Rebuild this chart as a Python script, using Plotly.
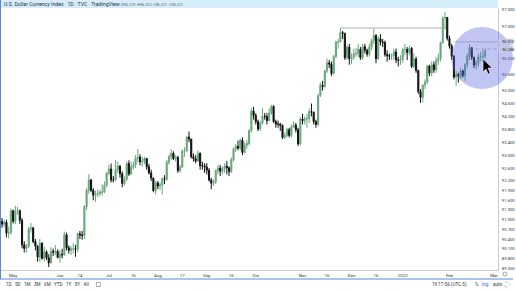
import pandas as pd
import plotly.graph_objects as go

# ---------------- data (TVC:DXY daily) ----------------
first_day = "2021-04-26"

open_prices = [
    90.95, 90.86, 90.92, 90.58, 90.60,
    91.28, 90.95, 91.27, 91.28, 90.98, 90.22, 90.11, 90.17, 90.72, 90.74, 90.32, 90.18, 89.84, 90.27, 89.80, 90.00, 89.82, 89.66, 90.02, 89.99, 90.02,
    89.83, 89.93, 89.91, 90.53, 90.13, 90.05, 90.10, 90.10, 90.08, 90.56, 90.53, 90.51, 91.40, 91.91, 92.23, 91.91, 91.76, 91.80, 91.81, 91.85, 91.86, 92.06,
    92.44, 92.57, 92.23, 92.23, 92.55, 92.66, 92.42, 92.12, 92.25, 92.74, 92.42, 92.63, 92.69, 92.90, 92.94, 92.79, 92.80, 92.90, 92.64, 92.45, 92.29, 91.90,
    92.14, 92.04, 92.07, 92.27, 92.25, 92.78, 92.95, 93.06, 92.89, 92.93, 92.52, 92.63, 93.13, 93.14, 93.56, 93.50, 92.95, 92.89, 92.82, 93.06, 92.68, 92.67,
    92.63, 92.53, 92.23, 92.13, 92.17, 92.52, 92.60, 92.50, 92.58, 92.66, 92.61, 92.49, 92.86, 93.19, 93.27, 93.22, 93.46, 93.08, 93.31, 93.36, 93.76, 94.37,
    94.23, 94.04, 93.81, 93.99, 94.21, 94.20, 94.07, 94.30, 94.51, 94.04, 93.96, 93.96, 93.92, 93.55, 93.61, 93.79, 93.61, 93.87, 93.93, 93.79, 93.35,
    94.12, 94.07, 94.13, 94.13, 94.35, 94.33, 94.04, 93.95, 94.85, 95.17, 95.12, 95.61, 95.86, 95.82, 95.53, 96.06, 96.50, 96.51, 96.80, 96.77, 96.02, 96.35,
    95.99, 96.03, 96.14, 96.15, 96.28, 96.02, 96.36, 96.25, 96.13, 96.35, 96.55, 96.71, 95.99, 96.61, 96.51, 96.49, 96.12, 96.08, 96.07, 96.08, 96.20, 95.95, 95.94,
    95.97, 96.27, 96.27, 96.18, 96.31, 95.75, 95.98, 95.62, 94.97, 94.79, 95.17, 95.26, 95.76, 95.54, 95.80, 95.64, 95.93, 96.00, 96.49, 97.25, 97.27,
    96.62, 96.38, 96.06, 95.42, 95.50, 95.44, 95.61, 95.47, 95.81, 96.08, 96.33, 96.03, 95.79, 95.86, 96.05, 96.05, 96.07,
]
high_prices = [
    91.05, 91.00, 91.00, 90.78, 91.35,
    91.31, 91.43, 91.40, 91.31, 91.05, 90.33, 90.25, 90.78, 90.90, 90.78, 90.40, 90.21, 90.40, 90.30, 90.16, 90.05, 89.93, 90.15, 90.10, 90.21, 90.08,
    90.05, 90.10, 90.63, 90.60, 90.20, 90.18, 90.28, 90.22, 90.60, 90.65, 90.65, 91.45, 91.98, 92.41, 92.26, 91.98, 91.90, 91.92, 91.93, 92.10, 92.19, 92.48,
    92.70, 92.74, 92.35, 92.84, 92.80, 92.69, 92.50, 92.35, 92.80, 92.84, 92.80, 92.80, 93.00, 93.19, 93.03, 92.95, 92.95, 92.90, 92.73, 92.55, 92.30, 92.20,
    92.20, 92.15, 92.32, 92.38, 92.85, 93.02, 93.18, 93.12, 93.00, 92.98, 92.70, 93.17, 93.25, 93.60, 93.73, 93.50, 93.05, 93.00, 93.15, 93.08, 92.80, 92.75,
    92.75, 92.60, 92.30, 92.25, 92.55, 92.70, 92.70, 92.65, 92.75, 92.82, 92.65, 92.93, 93.24, 93.35, 93.45, 93.51, 93.55, 93.40, 93.48, 93.80, 94.45, 94.50,
    94.30, 94.10, 94.05, 94.45, 94.30, 94.30, 94.45, 94.56, 94.55, 94.10, 94.07, 94.00, 93.95, 93.70, 93.85, 93.85, 93.95, 94.05, 94.00, 93.85, 94.18,
    94.28, 94.20, 94.27, 94.45, 94.60, 94.35, 94.10, 94.90, 95.25, 95.30, 95.65, 96.00, 95.95, 95.90, 96.10, 96.55, 96.60, 96.94, 96.85, 96.80, 96.40, 96.45,
    96.15, 96.30, 96.32, 96.45, 96.35, 96.45, 96.45, 96.30, 96.45, 96.60, 96.91, 96.75, 96.70, 96.75, 96.60, 96.55, 96.25, 96.15, 96.15, 96.30, 96.30, 96.05, 96.10,
    96.33, 96.45, 96.35, 96.40, 96.35, 96.15, 96.05, 95.65, 95.05, 95.20, 95.35, 95.80, 95.80, 95.90, 95.90, 96.05, 96.15, 96.52, 97.30, 97.44, 97.25,
    96.70, 96.45, 96.10, 95.60, 95.55, 95.70, 95.65, 95.85, 96.15, 96.44, 96.35, 96.05, 95.95, 96.15, 96.20, 96.25, 96.30,
]
low_prices = [
    90.75, 90.78, 90.45, 90.42, 90.55,
    90.88, 90.86, 91.15, 90.87, 90.11, 89.98, 89.98, 90.12, 90.60, 90.27, 90.05, 89.70, 89.69, 89.76, 89.70, 89.75, 89.53, 89.65, 89.87, 89.90, 89.80,
    89.66, 89.80, 89.88, 90.05, 89.95, 89.90, 89.95, 89.85, 90.00, 90.40, 90.38, 90.40, 91.30, 91.80, 91.85, 91.60, 91.55, 91.70, 91.72, 91.75, 91.82, 92.00,
    92.38, 92.15, 92.15, 92.20, 92.45, 92.30, 92.00, 92.05, 92.20, 92.35, 92.38, 92.55, 92.60, 92.78, 92.68, 92.65, 92.72, 92.55, 92.40, 92.20, 91.85, 91.78,
    91.95, 91.92, 91.78, 92.10, 92.20, 92.70, 92.85, 92.85, 92.80, 92.45, 92.45, 92.60, 92.95, 93.10, 93.40, 92.90, 92.80, 92.75, 92.80, 92.55, 92.55, 92.45,
    92.40, 92.18, 91.94, 92.05, 92.10, 92.40, 92.35, 92.40, 92.45, 92.40, 92.35, 92.45, 92.80, 93.10, 93.15, 93.15, 93.00, 93.05, 93.20, 93.30, 93.70, 94.10,
    93.95, 93.75, 93.75, 93.95, 94.10, 93.95, 94.05, 94.25, 94.00, 93.85, 93.85, 93.75, 93.50, 93.50, 93.55, 93.55, 93.55, 93.85, 93.70, 93.28, 93.30,
    93.95, 93.95, 93.85, 94.00, 94.20, 93.95, 93.85, 93.90, 94.80, 95.00, 95.10, 95.55, 95.70, 95.45, 95.50, 96.00, 96.30, 96.50, 96.60, 95.95, 95.95, 95.80,
    95.82, 95.95, 96.05, 96.05, 95.95, 95.95, 96.15, 96.05, 96.05, 96.25, 96.45, 95.85, 95.95, 96.40, 96.35, 96.05, 95.90, 95.95, 95.95, 95.95, 95.85, 95.75, 95.80,
    95.85, 96.10, 95.95, 96.10, 95.70, 95.70, 95.55, 94.90, 94.62, 94.63, 95.05, 95.20, 95.45, 95.45, 95.55, 95.55, 95.80, 95.90, 96.45, 96.90, 96.55,
    96.30, 95.95, 95.35, 95.14, 95.25, 95.35, 95.40, 95.30, 95.70, 95.95, 95.95, 95.70, 95.65, 95.75, 95.90, 95.90, 96.00,
]
close_prices = [
    90.86, 90.92, 90.58, 90.60, 91.28,
    90.95, 91.27, 91.28, 90.98, 90.22, 90.11, 90.17, 90.72, 90.74, 90.32, 90.18, 89.84, 90.27, 89.80, 90.00, 89.82, 89.66, 90.02, 89.99, 90.02, 89.83,
    89.93, 89.91, 90.53, 90.13, 90.05, 90.10, 90.10, 90.08, 90.56, 90.53, 90.51, 91.40, 91.91, 92.23, 91.91, 91.76, 91.80, 91.81, 91.85, 91.86, 92.06, 92.44,
    92.57, 92.23, 92.23, 92.55, 92.66, 92.42, 92.12, 92.25, 92.74, 92.42, 92.63, 92.69, 92.90, 92.94, 92.79, 92.80, 92.90, 92.64, 92.45, 92.29, 91.90, 92.14,
    92.04, 92.07, 92.27, 92.25, 92.78, 92.95, 93.06, 92.89, 92.93, 92.52, 92.63, 93.13, 93.14, 93.56, 93.50, 92.95, 92.89, 92.82, 93.06, 92.68, 92.67, 92.63,
    92.53, 92.23, 92.13, 92.17, 92.52, 92.60, 92.50, 92.58, 92.66, 92.61, 92.49, 92.86, 93.19, 93.27, 93.22, 93.46, 93.08, 93.31, 93.36, 93.76, 94.37, 94.23,
    94.04, 93.81, 93.99, 94.21, 94.20, 94.07, 94.30, 94.51, 94.04, 93.96, 93.96, 93.92, 93.55, 93.61, 93.79, 93.61, 93.87, 93.93, 93.79, 93.35, 94.12,
    94.07, 94.13, 94.13, 94.35, 94.33, 94.04, 93.95, 94.85, 95.17, 95.12, 95.61, 95.86, 95.82, 95.53, 96.06, 96.50, 96.51, 96.80, 96.77, 96.02, 96.35, 95.99,
    96.03, 96.14, 96.15, 96.28, 96.02, 96.36, 96.25, 96.13, 96.35, 96.55, 96.71, 95.99, 96.61, 96.51, 96.49, 96.12, 96.08, 96.07, 96.08, 96.20, 95.95, 95.94, 95.97,
    96.27, 96.27, 96.18, 96.31, 95.75, 95.98, 95.62, 94.97, 94.79, 95.17, 95.26, 95.76, 95.54, 95.80, 95.64, 95.93, 96.00, 96.49, 97.25, 97.27, 96.62,
    96.38, 96.06, 95.42, 95.50, 95.44, 95.61, 95.47, 95.81, 96.08, 96.33, 96.03, 95.79, 95.86, 96.05, 96.05, 96.07, 96.22,
]

tick_dates = ["2021-05-03", "2021-06-01", "2021-06-14", "2021-07-01", "2021-07-16",
              "2021-08-02", "2021-08-17", "2021-09-01", "2021-09-16", "2021-10-01",
              "2021-11-01", "2021-11-16", "2021-12-01", "2021-12-16", "2022-01-03",
              "2022-02-01", "2022-03-01"]
tick_text = ["May", "Jun", "14", "Jul", "16", "Aug", "17", "Sep", "16", "Oct",
             "Nov", "16", "Dec", "16", "2022", "Feb", "Mar"]

price_ticks = [97.5, 97.0, 96.0, 95.5, 95.0, 94.6, 94.2, 93.8, 93.4, 93.0, 92.6,
               92.2, 91.9, 91.6, 91.3, 91.0, 90.7, 90.4, 90.1, 89.8, 89.5]

resistance_value = 96.94
resistance_from = "2021-11-24"
resistance_to = "2022-01-28"
level_a_value = 96.510
level_a_from = "2022-02-03"
last_value = 96.288
last_from = "2022-02-14"

header_title = "U.S. Dollar Currency Index · 1D · TVC · TradingView"
header_ohlc = "O96.219  H96.222  L96.221  C96.221"

# ---------------- build ----------------
calendar = pd.bdate_range(first_day, "2022-03-01")
pos = {d.strftime("%Y-%m-%d"): i for i, d in enumerate(calendar)}
n = len(close_prices)
x_idx = list(range(n))
dates = [d.strftime("%Y-%m-%d") for d in calendar[:n]]

UP = "#67a77b"
DOWN = "#111111"

fig = go.Figure()
fig.add_trace(go.Candlestick(
    x=x_idx, open=open_prices, high=high_prices, low=low_prices, close=close_prices,
    text=dates, hoverinfo="skip",
    increasing=dict(line=dict(color=UP, width=1), fillcolor=UP),
    decreasing=dict(line=dict(color=DOWN, width=1), fillcolor=DOWN),
    whiskerwidth=0,
))

W, H = 516, 290
ML, MR, MT, MB = 1, 15, 8, 20
PW = W - ML - MR
PH = H - MT - MB


def px(xp):
    return (xp - ML) / PW


def py(yp):
    return (H - MB - yp) / PH


shapes = []
shapes.append(dict(type="rect", xref="paper", yref="paper", x0=px(0), x1=px(501),
                   y0=py(8), y1=py(0), fillcolor="#d5eef9", line=dict(width=0), layer="below"))
shapes.append(dict(type="line", xref="x", yref="y", x0=pos[resistance_from], x1=pos[resistance_to],
                   y0=resistance_value, y1=resistance_value, line=dict(color="#9a9a9a", width=0.8)))
shapes.append(dict(type="line", xref="x", yref="y", x0=pos[level_a_from], x1=222.8,
                   y0=level_a_value, y1=level_a_value, line=dict(color="#9a9aa8", width=0.6)))
shapes.append(dict(type="line", xref="x", yref="y", x0=pos[last_from], x1=222.8,
                   y0=last_value, y1=last_value, line=dict(color="#8a8a9a", width=0.6, dash="dot")))
shapes.append(dict(type="circle", xref="paper", yref="paper", x0=px(454), x1=px(516),
                   y0=py(89), y1=py(27), fillcolor="rgba(92,102,226,0.38)", line=dict(width=0)))
arrow_pts = [(486, 59), (486, 72), (489, 69), (491, 74), (493, 73), (491, 68), (495, 68)]
path = "M " + " L ".join(f"{px(a):.4f},{py(b):.4f}" for a, b in arrow_pts) + " Z"
shapes.append(dict(type="path", xref="paper", yref="paper", path=path,
                   fillcolor="#000000", line=dict(color="#ffffff", width=0.5)))
shapes.append(dict(type="line", xref="paper", yref="paper", x0=px(0.5), x1=px(0.5),
                   y0=py(279), y1=py(0), line=dict(color="#5b8ad6", width=1)))
shapes.append(dict(type="line", xref="paper", yref="paper", x0=px(0), x1=px(516),
                   y0=py(279), y1=py(279), line=dict(color="#5b8ad6", width=1)))
for v in (level_a_value, last_value):
    shapes.append(dict(type="rect", xref="paper", yref="y", x0=px(501.5), x1=px(516),
                       y0=v - 0.095, y1=v + 0.095, fillcolor="#c3c8e6", line=dict(width=0)))

ann = []
ann.append(dict(text=header_title, x=px(2), y=py(4.2), xref="paper", yref="paper",
                xanchor="left", yanchor="middle", showarrow=False,
                font=dict(size=5.2, color="#2a2e39", family="Roboto")))
ann.append(dict(text=header_ohlc, x=px(120), y=py(4.4), xref="paper", yref="paper",
                xanchor="left", yanchor="middle", showarrow=False,
                font=dict(size=3.8, color="#555", family="Roboto")))
for v in (level_a_value, last_value):
    ann.append(dict(text=f"{v:.3f}", x=px(503), y=v, xref="paper", yref="y",
                    xanchor="left", yanchor="middle", showarrow=False,
                    font=dict(size=4, color="#2a2e39", family="Roboto")))
ann.append(dict(text="1D&nbsp;&nbsp;&nbsp;5D&nbsp;&nbsp;&nbsp;1M&nbsp;&nbsp;&nbsp;3M&nbsp;&nbsp;&nbsp;6M&nbsp;&nbsp;&nbsp;YTD&nbsp;&nbsp;&nbsp;1Y&nbsp;&nbsp;&nbsp;5Y&nbsp;&nbsp;&nbsp;All",
                x=px(4), y=py(284.5), xref="paper", yref="paper", xanchor="left", yanchor="middle",
                showarrow=False, font=dict(size=4.6, color="#333", family="Roboto")))
ann.append(dict(text="19:17:56 (UTC-5)", x=px(433), y=py(284.5), xref="paper", yref="paper",
                xanchor="left", yanchor="middle", showarrow=False,
                font=dict(size=4.6, color="#333", family="Roboto")))
ann.append(dict(text="%", x=px(476), y=py(284.5), xref="paper", yref="paper",
                xanchor="left", yanchor="middle", showarrow=False,
                font=dict(size=4.6, color="#333", family="Roboto")))
ann.append(dict(text="log", x=px(483), y=py(284.5), xref="paper", yref="paper",
                xanchor="left", yanchor="middle", showarrow=False,
                font=dict(size=4.6, color="#2962ff", family="Roboto")))
ann.append(dict(text="auto", x=px(494), y=py(284.5), xref="paper", yref="paper",
                xanchor="left", yanchor="middle", showarrow=False,
                font=dict(size=4.6, color="#333", family="Roboto")))
shapes.append(dict(type="rect", xref="paper", yref="paper", x0=px(97), x1=px(101),
                   y0=py(286.5), y1=py(282.5), line=dict(color="#777", width=0.6)))
shapes.append(dict(type="rect", xref="paper", yref="paper", x0=px(508), x1=px(513),
                   y0=py(287), y1=py(282), line=dict(color="#aaa", width=0.6, dash="dot")))
shapes.append(dict(type="circle", xref="paper", yref="paper", x0=px(506), x1=px(510),
                   y0=py(276), y1=py(272), line=dict(color="#666", width=0.6)))

fig.update_layout(
    width=W, height=H, autosize=False,
    margin=dict(l=ML, r=MR, t=MT, b=MB, pad=0),
    paper_bgcolor="#ffffff", plot_bgcolor="#ffffff",
    showlegend=False, hovermode=False,
    font=dict(family="Roboto", size=4.3, color="#333"),
    shapes=shapes, annotations=ann,
    xaxis=dict(
        range=[-0.45, 222.8], rangeslider=dict(visible=False),
        tickmode="array", tickvals=[pos[d] for d in tick_dates], ticktext=tick_text,
        showgrid=False, zeroline=False, showline=True, linecolor="#c9ccd4", linewidth=1,
        ticks="", tickfont=dict(size=4.4, color="#333"), ticklabelstandoff=1,
    ),
    yaxis=dict(
        side="right", range=[89.44, 97.56],
        tickmode="array", tickvals=price_ticks, tickformat=".3f",
        showgrid=False, zeroline=False, showline=True, linecolor="#c9ccd4", linewidth=1,
        ticks="", tickfont=dict(size=4.2, color="#333"), ticklabelstandoff=2,
    ),
)

fig.write_html("out.html", config={"displayModeBar": False, "staticPlot": True})
